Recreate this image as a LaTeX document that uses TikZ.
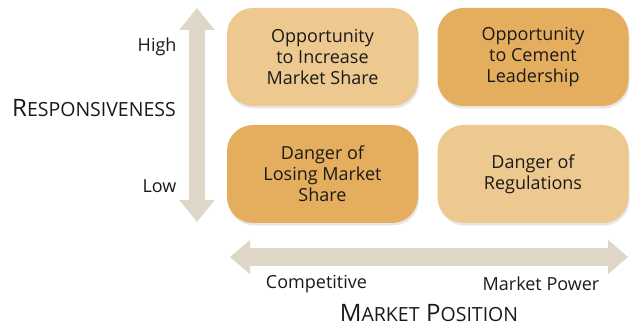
\documentclass[tikz,border=0pt]{standalone}
\usepackage{fontspec}
\setmainfont{Open Sans}
\usetikzlibrary{arrows.meta,shadows}

\definecolor{boxlight}{HTML}{EDC98F}
\definecolor{boxdark}{HTML}{E4AE5E}
\definecolor{axisgray}{HTML}{DED6C6}
\definecolor{textgray}{HTML}{1A1A1A}

\newcommand{\axistitle}[2]{{\fontsize{24}{24}\selectfont #1}{\fontsize{19.5}{24}\selectfont #2}}

\tikzset{
  cell/.style={rounded corners=26pt, minimum width=191pt, minimum height=98pt,
    align=center, text=textgray, font=\fontsize{18}{21}\selectfont,
    drop shadow={opacity=0.2, shadow xshift=1pt, shadow yshift=-2.5pt}},
  tick/.style={text=textgray, font=\fontsize{18}{20}\selectfont},
  title/.style={text=textgray, inner sep=0pt, anchor=base},
  axis/.style={draw=axisgray, line width=#1}
}

\begin{document}
\begin{tikzpicture}[x=1pt, y=-1pt]
\useasboundingbox (0,0) rectangle (630,328);

%% vertical axis
\coordinate (vtop) at (197,8);
\coordinate (vbot) at (197,222);
\draw[axis=16pt, {Triangle[width=34pt,length=22pt]}-{Triangle[width=34pt,length=22pt]}] (vtop) -- (vbot);

%% horizontal axis
\coordinate (hleft) at (230,257);
\coordinate (hright) at (628,257);
\draw[axis=18pt, {Triangle[width=33pt,length=20pt]}-{Triangle[width=33pt,length=20pt]}] (hleft) -- (hright);

%% the four cells
\node[cell, fill=boxlight] (incshare) at (322.5,57) {Opportunity\\to Increase\\Market Share};
\node[cell, fill=boxdark] (cement) at (533,57) {Opportunity\\to Cement\\Leadership};
\node[cell, fill=boxdark] (losing) at (322.5,174) {Danger of\\Losing Market\\Share};
\node[cell, fill=boxlight] (regul) at (533,174) {Danger of\\Regulations};

%% labels
\node[tick, anchor=east] (high) at (180,47) {High};
\node[tick, anchor=east] (low) at (180,186) {Low};
\node[tick] (compet) at (316.5,284) {Competitive};
\node[tick] (mpower) at (541,284) {Market Power};
\node[title] (respons) at (94,117) {\axistitle{R}{ESPONSIVENESS}};
\node[title] (mposition) at (429,322) {\axistitle{M}{ARKET}\hspace{4pt} \axistitle{P}{OSITION}};
\end{tikzpicture}
\end{document}
